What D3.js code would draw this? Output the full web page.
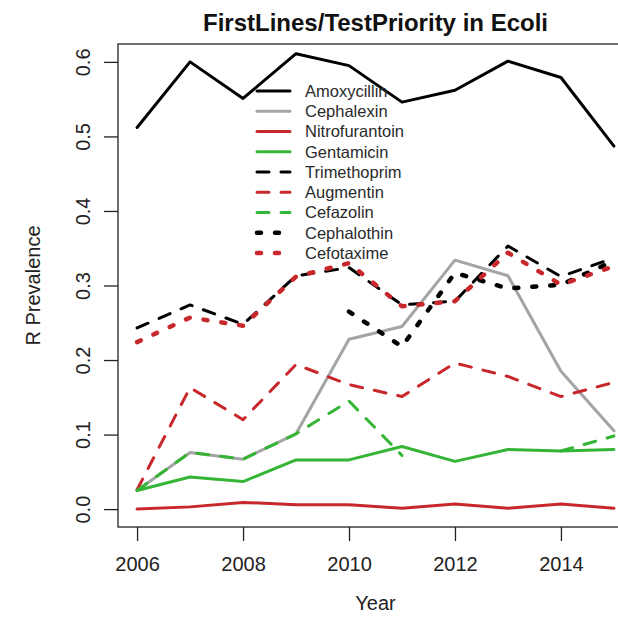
<!DOCTYPE html>
<html>
<head>
<meta charset="utf-8">
<script src="https://cdn.jsdelivr.net/npm/d3@7.9.0/dist/d3.min.js"></script>
<style>
  body { margin: 0; background: #fff; }
  svg { display: block; font-family: "Liberation Sans", Arial, sans-serif; }
</style>
</head>
<body>
<div id="chart"></div>
<script>
// years on the x axis
const years = [2006, 2007, 2008, 2009, 2010, 2011, 2012, 2013, 2014, 2015];

// R prevalence per drug (null = no data that year)
const amoxycillin    = [0.512, 0.600, 0.551, 0.611, 0.595, 0.546, 0.562, 0.601, 0.579, 0.487];
const cephalexin     = [0.025, 0.076, 0.067, 0.101, 0.228, 0.245, 0.334, 0.313, 0.185, 0.105];
const nitrofurantoin = [0.000, 0.003, 0.009, 0.006, 0.006, 0.001, 0.007, 0.001, 0.007, 0.001];
const gentamicin     = [0.025, 0.043, 0.037, 0.066, 0.066, 0.084, 0.064, 0.080, 0.078, 0.080];
const trimethoprim   = [0.243, 0.274, 0.248, 0.313, 0.324, 0.274, 0.279, 0.353, 0.312, 0.337];
const augmentin      = [0.026, 0.163, 0.120, 0.194, 0.167, 0.151, 0.196, 0.178, 0.151, 0.170];
const cefazolin      = [0.025, 0.076, 0.067, 0.101, 0.145, 0.072, null, null, 0.078, 0.098];
const cephalothin    = [null, null, null, null, 0.265, 0.218, 0.317, 0.296, 0.301, 0.333];
const cefotaxime     = [0.224, 0.257, 0.246, 0.312, 0.330, 0.272, 0.279, 0.344, 0.301, 0.326];

const drugNames = ['Amoxycillin', 'Cephalexin', 'Nitrofurantoin', 'Gentamicin', 'Trimethoprim',
                   'Augmentin', 'Cefazolin', 'Cephalothin', 'Cefotaxime'];
const drugValues = [amoxycillin, cephalexin, nitrofurantoin, gentamicin, trimethoprim,
                    augmentin, cefazolin, cephalothin, cefotaxime];

const yTicks = [0.0, 0.1, 0.2, 0.3, 0.4, 0.5, 0.6];
const xTicks = [2006, 2008, 2010, 2012, 2014];

// line styles, like R's col / lty
const red = '#c8282b', green = '#35b535', grey = '#a4a4a4';
const styles = [
  { color: '#000', kind: 'solid' },
  { color: grey,   kind: 'solid' },
  { color: red,    kind: 'solid' },
  { color: green,  kind: 'solid' },
  { color: '#000', kind: 'dashed' },
  { color: red,    kind: 'dashed' },
  { color: green,  kind: 'dashed' },
  { color: '#000', kind: 'dotted' },
  { color: red,    kind: 'dotted' },
];
const dash = { solid: null, dashed: '12,12', dotted: '4,14' };
const lwd = { solid: 3, dashed: 3, dotted: 4.5 };

const width = 618, height = 627;
const plot = { left: 118, right: 633, top: 44, bottom: 527 };

const svg = d3.select('#chart').append('svg')
  .attr('width', width)
  .attr('height', height);

const x = d3.scaleLinear().domain([2005.64, 2015.36]).range([plot.left, plot.right]);
const y = d3.scaleLinear().domain([-0.024, 0.624]).range([plot.bottom, plot.top]);

// title
svg.append('text')
  .attr('x', (plot.left + plot.right) / 2)
  .attr('y', 31)
  .attr('text-anchor', 'middle')
  .attr('font-size', 24)
  .attr('font-weight', 'bold')
  .attr('fill', '#111')
  .text('FirstLines/TestPriority in Ecoli');

// lines
const line = d3.line()
  .defined((d) => d.v != null)
  .x((d) => x(d.year))
  .y((d) => y(d.v));

const lines = svg.append('g').attr('class', 'lines');
drugValues.forEach((vals, i) => {
  const pts = years.map((year, j) => ({ year, v: vals[j] }));
  lines.append('path')
    .datum(pts)
    .attr('d', line)
    .attr('fill', 'none')
    .attr('stroke', styles[i].color)
    .attr('stroke-width', lwd[styles[i].kind])
    .attr('stroke-dasharray', dash[styles[i].kind])
    .attr('stroke-linecap', 'round')
    .attr('stroke-linejoin', 'round');
});

// box
svg.append('rect')
  .attr('x', plot.left)
  .attr('y', plot.top)
  .attr('width', plot.right - plot.left)
  .attr('height', plot.bottom - plot.top)
  .attr('fill', 'none')
  .attr('stroke', '#222')
  .attr('stroke-width', 1.3);

// axes
const xAxis = svg.append('g')
  .attr('transform', `translate(0, ${plot.bottom})`)
  .call(d3.axisBottom(x).tickValues(xTicks).tickFormat(d3.format('d')).tickSize(14).tickPadding(16));
xAxis.select('.domain').remove();
xAxis.selectAll('line').attr('stroke', '#222').attr('stroke-width', 1.3);
xAxis.selectAll('text').attr('font-size', 20).attr('fill', '#222').attr('font-family', null);

const yAxis = svg.append('g')
  .attr('transform', `translate(${plot.left}, 0)`)
  .call(d3.axisLeft(y).tickValues(yTicks).tickFormat(d3.format('.1f')).tickSize(14));
yAxis.select('.domain').remove();
yAxis.selectAll('line').attr('stroke', '#222').attr('stroke-width', 1.3);
yAxis.selectAll('text')
  .attr('font-size', 20)
  .attr('fill', '#222')
  .attr('font-family', null)
  .attr('x', null)
  .attr('dy', null)
  .attr('text-anchor', 'middle')
  .attr('transform', 'translate(-28, 0) rotate(-90)');

// axis titles
svg.append('text')
  .attr('x', (plot.left + plot.right) / 2)
  .attr('y', 610)
  .attr('text-anchor', 'middle')
  .attr('font-size', 20)
  .attr('fill', '#222')
  .text('Year');

svg.append('text')
  .attr('transform', `translate(40, ${(plot.top + plot.bottom) / 2}) rotate(-90)`)
  .attr('text-anchor', 'middle')
  .attr('font-size', 20)
  .attr('fill', '#222')
  .text('R Prevalence');

// legend, no box
const legend = svg.append('g').attr('class', 'legend');
drugNames.forEach((name, i) => {
  const ly = 91 + i * 20.25;
  legend.append('line')
    .attr('x1', 257).attr('x2', 290)
    .attr('y1', ly).attr('y2', ly)
    .attr('stroke', styles[i].color)
    .attr('stroke-width', lwd[styles[i].kind])
    .attr('stroke-dasharray', dash[styles[i].kind])
    .attr('stroke-linecap', 'round');
  legend.append('text')
    .attr('x', 305)
    .attr('y', ly)
    .attr('dy', '0.35em')
    .attr('font-size', 16.5)
    .attr('fill', '#2a2a2a')
    .text(name);
});
</script>
</body>
</html>
